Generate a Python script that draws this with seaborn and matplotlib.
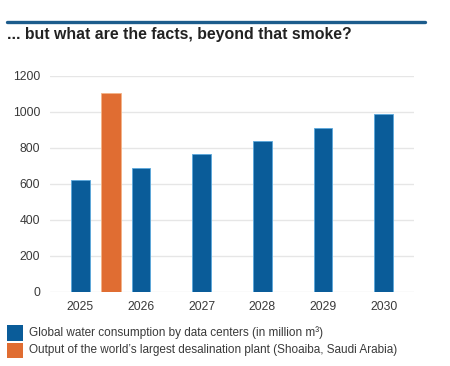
import pandas as pd
import matplotlib
matplotlib.use("Agg")
import matplotlib.pyplot as plt
import matplotlib.patches as mpatches
import seaborn as sns

# data
years = [2025, 2026, 2027, 2028, 2029, 2030]
datacenter_water = [620, 690, 765, 840, 910, 985]
desal_x = [2025.5]
desal_output = [1105]

blue = "#0a5c99"
orange = "#e06d32"

sns.set_theme(style="white")
plt.rcParams['font.family'] = ['Liberation Sans', 'DejaVu Sans']

fig = plt.figure(figsize=(4.5, 3.66), dpi=100)
ax = fig.add_axes([50 / 450, 1 - 292 / 366, (414 - 50) / 450, (292 - 75.7) / 366])

blue_df = pd.DataFrame({'year': years, 'value': datacenter_water})
desal_df = pd.DataFrame({'year': desal_x, 'value': desal_output})

sns.barplot(data=blue_df, x='year', y='value', native_scale=True, width=0.31,
            color=blue, saturation=1, edgecolor="#5aa8dc", linewidth=0.6, ax=ax)
sns.barplot(data=desal_df, x='year', y='value', native_scale=True, width=0.33,
            color=orange, saturation=1, edgecolor="#f4b387", linewidth=0.6, ax=ax)

ax.set_xlim(2024.5, 2030.5)
ax.set_ylim(0, 1200)
ax.set_xticks(years)
ax.set_xticklabels([str(y) for y in years])
ax.set_yticks(range(0, 1201, 200))
ax.set_xlabel("")
ax.set_ylabel("")
ax.yaxis.grid(True, color="#e6e6e6", linewidth=1)
ax.set_axisbelow(True)
for s in ax.spines.values():
    s.set_visible(False)
ax.tick_params(axis='both', length=0, labelsize=8.7, colors="#3a3a3a")
ax.tick_params(axis='y', pad=7)
ax.tick_params(axis='x', pad=6.5)

# header rule and title
fig.add_artist(plt.Line2D([7 / 450, 425 / 450], [1 - 21.5 / 366] * 2,
                          color="#1c5c8c", linewidth=2.4))
fig.text(7 / 450, 1 - 35 / 366, "... but what are the facts, beyond that smoke?",
         fontsize=11.4, fontweight='bold', color="#222222", va='center', ha='left')

# legend
legend_items = [
    (blue, "Global water consumption by data centers (in million m³)", 325),
    (orange, "Output of the world’s largest desalination plant (Shoaiba, Saudi Arabia)", 342.5),
]
for col, label, top in legend_items:
    fig.add_artist(mpatches.Rectangle((7 / 450, 1 - (top + 15.5) / 366), 15.5 / 450, 15.5 / 366,
                                      facecolor=col, edgecolor='none'))
    fig.text(29 / 450, 1 - (top + 8) / 366, label, fontsize=8.5, color="#3a3a3a",
             va='center', ha='left')

fig.savefig("out.png", dpi=100)
